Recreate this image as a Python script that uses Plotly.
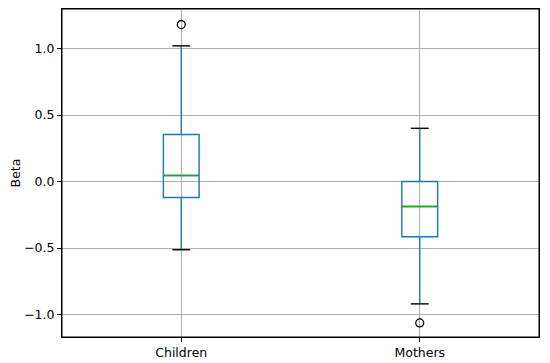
import plotly.graph_objects as go

categories = ["Children", "Mothers"]
positions = [1, 2]
q1 = [-0.12, -0.415]
median = [0.045, -0.188]
q3 = [0.353, 0.0]
lower_whisker = [-0.513, -0.92]
upper_whisker = [1.02, 0.40]
outliers = [[1.18], [-1.063]]

BOX_W = 0.15
CAP_W = 0.075
blue = "#1f77b4"
green = "#2ca02c"

fig = go.Figure()
fig.add_trace(go.Box(
    x=positions, q1=q1, median=median, q3=q3,
    lowerfence=lower_whisker, upperfence=upper_whisker,
    width=BOX_W, whiskerwidth=0, boxpoints=False,
    fillcolor="rgba(0,0,0,0)", line=dict(color=blue, width=1.4),
    showlegend=False, hoverinfo="skip",
))

for p, med, lo, hi, outs in zip(positions, median, lower_whisker, upper_whisker, outliers):
    fig.add_trace(go.Scatter(x=[p - BOX_W / 2, p + BOX_W / 2], y=[med, med], mode="lines",
                             line=dict(color=green, width=1.4), showlegend=False, hoverinfo="skip"))
    for v in (lo, hi):
        fig.add_trace(go.Scatter(x=[p - CAP_W / 2, p + CAP_W / 2], y=[v, v], mode="lines",
                                 line=dict(color="black", width=1.4), showlegend=False, hoverinfo="skip"))
    fig.add_trace(go.Scatter(x=[p] * len(outs), y=outs, mode="markers",
                             marker=dict(symbol="circle-open", size=8, color="black", line=dict(width=1.2)),
                             showlegend=False, hoverinfo="skip"))

axis_common = dict(
    showline=True, linecolor="black", linewidth=1, mirror=True,
    showgrid=True, gridcolor="#b0b0b0", gridwidth=1,
    ticks="outside", ticklen=4, tickcolor="black", zeroline=False,
    automargin=False,
    tickfont=dict(family="DejaVu Sans", size=12.5, color="black"),
)

fig.update_layout(
    width=542, height=356,
    margin=dict(l=54, r=11, t=1, b=27),
    paper_bgcolor="white", plot_bgcolor="white",
    font=dict(family="DejaVu Sans", size=12.5, color="black"),
    xaxis=dict(range=[0.5, 2.5], tickvals=positions, ticktext=categories, **axis_common),
    yaxis=dict(range=[-1.169, 1.297], tickvals=[-1.0, -0.5, 0.0, 0.5, 1.0],
               ticktext=["\u22121.0", "\u22120.5", "0.0", "0.5", "1.0"],
               title=dict(text="Beta", font=dict(family="DejaVu Sans", size=12.5), standoff=6),
               **axis_common),
    shapes=[dict(type="rect", xref="paper", yref="paper", x0=0, x1=1, y0=0, y1=1,
                 line=dict(color="black", width=1), layer="above")],
)

fig.write_html("out.html")
